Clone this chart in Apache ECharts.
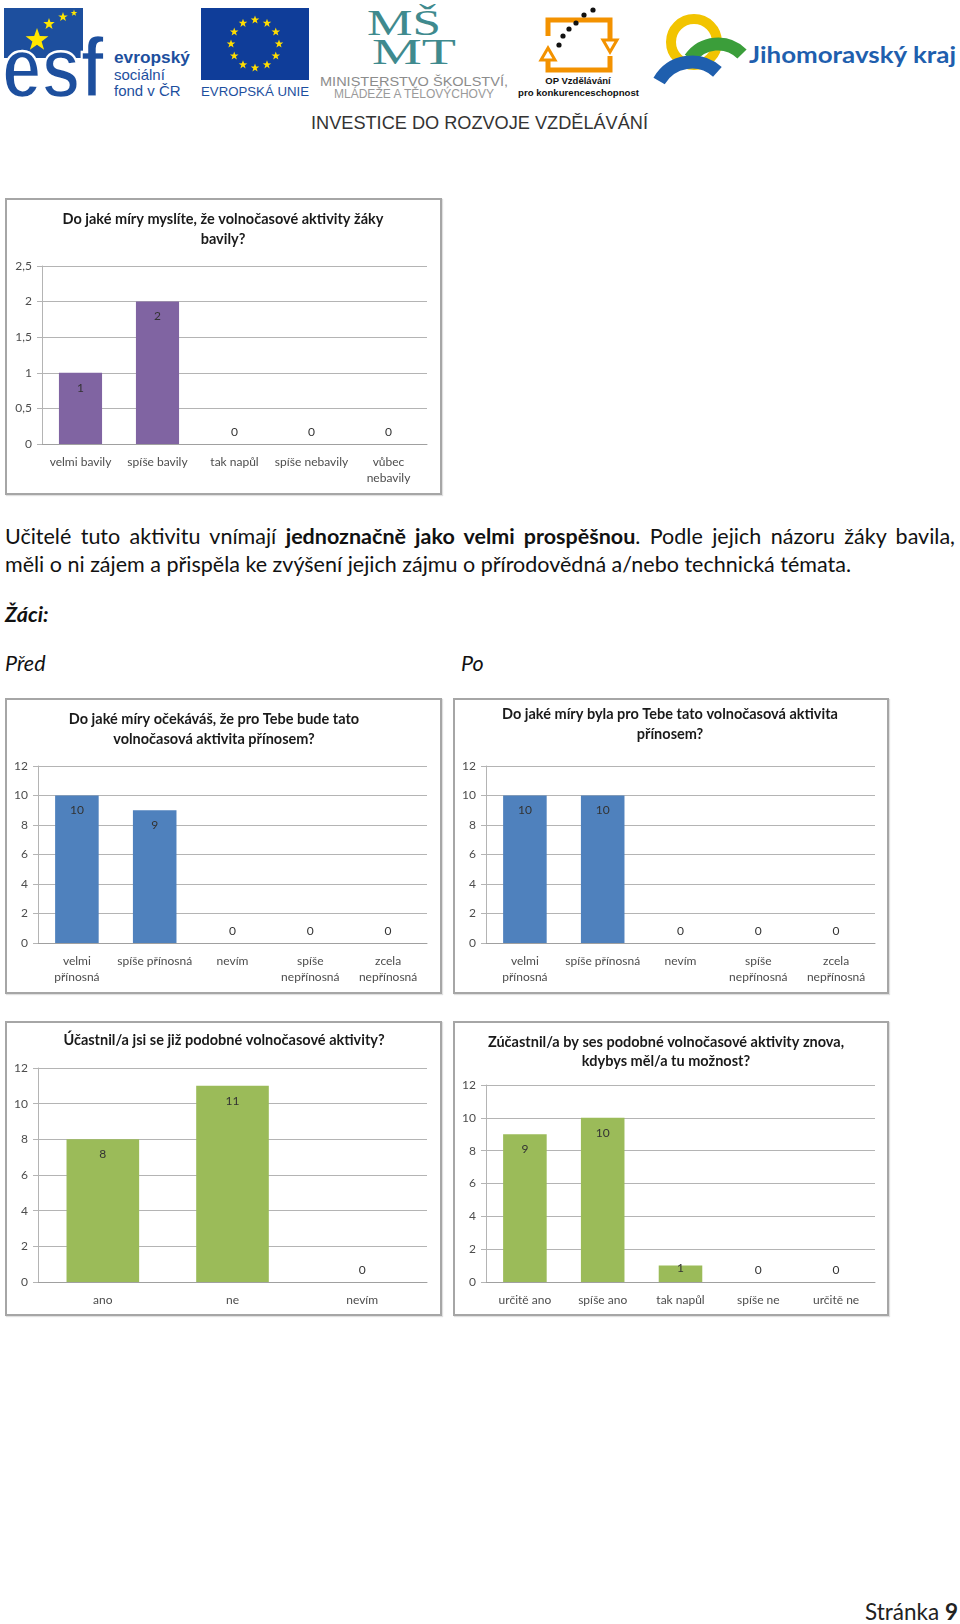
<!DOCTYPE html>
<html><head><meta charset="utf-8">
<script src="https://cdn.jsdelivr.net/npm/echarts@6/dist/echarts.min.js"></script>
<style>
html,body{margin:0;padding:0;background:#fff;}
body{width:960px;height:1624px;position:relative;overflow:hidden;font-family:Lato,'Noto Sans',sans-serif;color:#111;}
.box{position:absolute;box-sizing:border-box;border:2px solid #a6a6a6;box-shadow:1px 1px 1px rgba(0,0,0,0.12);}
.chart{position:absolute;left:-2px;top:-2px;}
.txt{position:absolute;font-size:21.5px;line-height:28px;}
</style></head>
<body>
<svg id="hdr" width="960" height="140" style="position:absolute;left:0;top:0"></svg>

<div class="txt" style="left:5px;top:522px;width:950px;text-align:justify;text-align-last:justify;">Učitelé tuto aktivitu vnímají <b>jednoznačně jako velmi prospěšnou</b>. Podle jejich názoru žáky bavila,</div>
<div class="txt" style="left:5px;top:550px;white-space:nowrap;">měli o ni zájem a přispěla ke zvýšení jejich zájmu o přírodovědná a/nebo technická témata.</div>
<div class="txt" style="left:5px;top:600px;font-weight:bold;font-style:italic;">Žáci:</div>
<div class="txt" style="left:5px;top:649px;font-style:italic;">Před</div>
<div class="txt" style="left:461px;top:649px;font-style:italic;">Po</div>

<div class="box" style="left:5px;top:198px;width:437px;height:297px;"><div class="chart" id="c1" style="width:437px;height:297px;"></div></div>
<div class="box" style="left:5px;top:698px;width:437px;height:296px;"><div class="chart" id="c2" style="width:437px;height:296px;"></div></div>
<div class="box" style="left:453px;top:698px;width:436px;height:296px;"><div class="chart" id="c3" style="width:436px;height:296px;"></div></div>
<div class="box" style="left:5px;top:1021px;width:437px;height:295px;"><div class="chart" id="c4" style="width:437px;height:295px;"></div></div>
<div class="box" style="left:453px;top:1021px;width:436px;height:295px;"><div class="chart" id="c5" style="width:436px;height:295px;"></div></div>

<div style="position:absolute;right:2px;top:1601px;font-size:22.5px;line-height:22px;color:#222;white-space:nowrap;">Stránka <b>9</b></div>

<script>
// ---------- data ----------
const teacherCategories = ['velmi bavily', 'spíše bavily', 'tak napůl', 'spíše nebavily', 'vůbec\nnebavily'];
const teacherValues = [1, 2, 0, 0, 0];
const teacherTicks = { min: 0, max: 2.5, interval: 0.5 };

const benefitCategories = ['velmi\npřínosná', 'spíše přínosná', 'nevím', 'spíše\nnepřínosná', 'zcela\nnepřínosná'];
const benefitBeforeValues = [10, 9, 0, 0, 0];
const benefitAfterValues = [10, 10, 0, 0, 0];

const participatedCategories = ['ano', 'ne', 'nevím'];
const participatedValues = [8, 11, 0];

const againCategories = ['určitě ano', 'spíše ano', 'tak napůl', 'spíše ne', 'určitě ne'];
const againValues = [9, 10, 1, 0, 0];

const countTicks = { min: 0, max: 12, interval: 2 };

// ---------- header logos ----------
function starPts(cx, cy, R) {
  const r = R * 0.4, p = [];
  for (let i = 0; i < 10; i++) {
    const a = (-90 + i * 36) * Math.PI / 180, rr = i % 2 ? r : R;
    p.push((cx + rr * Math.cos(a)).toFixed(1) + ',' + (cy + rr * Math.sin(a)).toFixed(1));
  }
  return p.join(' ');
}
function arcPath(cx, cy, r, a0, a1) {
  const p = a => [(cx + r * Math.cos(a * Math.PI / 180)).toFixed(1), (cy + r * Math.sin(a * Math.PI / 180)).toFixed(1)];
  const s = p(a0), e = p(a1);
  return 'M' + s[0] + ',' + s[1] + ' A' + r + ',' + r + ' 0 ' + ((a1 - a0) > 180 ? 1 : 0) + ' 1 ' + e[0] + ',' + e[1];
}
(function () {
  let s = '';
  // ESF
  s += '<rect x="4" y="8" width="79" height="50" fill="#1d4f9e"/>';
  s += '<text x="2" y="97" font-family="Liberation Sans" font-weight="bold" font-size="86" fill="#1d4f9e" stroke="#fff" stroke-width="2.5" textLength="102" lengthAdjust="spacingAndGlyphs">esf</text>';
  [[37, 40, 12], [49, 24, 6], [63, 17, 5], [74, 13, 3.5]].forEach(st => s += '<polygon points="' + starPts(st[0], st[1], st[2]) + '" fill="#ffe600"/>');
  s += '<text x="114" y="63" font-family="Liberation Sans" font-weight="bold" font-size="17" fill="#1d4f9e" textLength="76" lengthAdjust="spacingAndGlyphs">evropský</text>';
  s += '<text x="114" y="80" font-family="Liberation Sans" font-size="15" fill="#1d4f9e">sociální</text>';
  s += '<text x="114" y="96" font-family="Liberation Sans" font-size="15" fill="#1d4f9e">fond v ČR</text>';
  // EU flag
  s += '<rect x="201" y="8" width="108" height="72" fill="#0f3d99"/>';
  for (let i = 0; i < 12; i++) {
    const a = i * 30 * Math.PI / 180;
    s += '<polygon points="' + starPts(255 + 24 * Math.sin(a), 44 - 24 * Math.cos(a), 4.5) + '" fill="#ffdd00"/>';
  }
  s += '<text x="201" y="96" font-family="Liberation Sans" font-size="13.5" fill="#1d4f9e" textLength="108" lengthAdjust="spacingAndGlyphs">EVROPSKÁ UNIE</text>';
  // MSMT
  s += '<text x="367" y="35" font-family="Liberation Serif" font-size="36" fill="#3f8a8e" textLength="74" lengthAdjust="spacingAndGlyphs">MŠ</text>';
  s += '<text x="372" y="64" font-family="Liberation Serif" font-size="36" fill="#3f8a8e" textLength="84" lengthAdjust="spacingAndGlyphs">MT</text>';
  s += '<text x="320" y="86" font-family="Liberation Sans" font-size="13" fill="#8c8c8c" textLength="188" lengthAdjust="spacingAndGlyphs">MINISTERSTVO ŠKOLSTVÍ,</text>';
  s += '<text x="334" y="98" font-family="Liberation Sans" font-size="12" fill="#9a9a9a" textLength="160" lengthAdjust="spacingAndGlyphs">MLÁDEŽE A TĚLOVÝCHOVY</text>';
  // OP
  s += '<path d="M548,36 V20 H610 V40" fill="none" stroke="#f39200" stroke-width="5"/>';
  s += '<polygon points="603,40 617,40 610,52" fill="none" stroke="#f39200" stroke-width="3"/>';
  s += '<path d="M610,56 V70 H548 V60" fill="none" stroke="#f39200" stroke-width="5"/>';
  s += '<polygon points="541,60 555,60 548,48" fill="none" stroke="#f39200" stroke-width="3"/>';
  [[559, 45], [563, 36], [569, 29], [576, 23], [584, 15], [593, 10]].forEach(d => s += '<circle cx="' + d[0] + '" cy="' + d[1] + '" r="2.6" fill="#111"/>');
  s += '<text x="578" y="84" text-anchor="middle" font-family="Liberation Sans" font-weight="bold" font-size="9.5" fill="#111">OP Vzdělávání</text>';
  s += '<text x="518" y="96" font-family="Liberation Sans" font-weight="bold" font-size="9.5" fill="#111" textLength="121" lengthAdjust="spacingAndGlyphs">pro konkurenceschopnost</text>';
  // Jihomoravsky kraj
  s += '<circle cx="694" cy="42" r="23" fill="none" stroke="#f2c400" stroke-width="10"/>';
  s += '<path d="' + arcPath(718, 78, 34, -145, -45) + '" fill="none" stroke="#3b9e3a" stroke-width="13"/>';
  s += '<path d="' + arcPath(692, 100, 38, -150, -48) + '" fill="none" stroke="#1f5fae" stroke-width="13"/>';
  s += '<text x="749" y="63" font-family="Lato" font-weight="bold" font-size="22" fill="#1f5fae" textLength="207" lengthAdjust="spacingAndGlyphs">Jihomoravský kraj</text>';
  // Investice
  s += '<text x="311" y="129" font-family="Liberation Sans" font-size="18" fill="#333" textLength="337" lengthAdjust="spacingAndGlyphs">INVESTICE DO ROZVOJE VZDĚLÁVÁNÍ</text>';
  document.getElementById('hdr').innerHTML = s;
})();

// ---------- charts ----------
const GRID = '#b4b4b4';
function makeChart(id, cfg) {
  const chart = echarts.init(document.getElementById(id), null, { renderer: 'canvas' });
  const data = cfg.values.map(v => {
    const item = { value: v };
    if (v === 0) item.label = { position: 'top', distance: 6 };
    else if (v / cfg.ticks.max < 0.1) item.label = { position: 'top', distance: -9 };
    return item;
  });
  chart.setOption({
    animation: false,
    backgroundColor: 'transparent',
    graphic: [{
      type: 'text', x: cfg.titleX, y: cfg.titleTop,
      style: { text: cfg.title, font: 'bold 14.5px Lato', fill: '#1a1a1a', align: 'center', verticalAlign: 'top', lineHeight: cfg.titleLH || 19.5 }
    }],
    grid: cfg.grid,
    xAxis: {
      type: 'category', data: cfg.categories,
      axisLine: { lineStyle: { color: '#a0a0a0' } },
      axisTick: { show: false },
      axisLabel: { interval: 0, color: '#4d4d4d', fontFamily: 'Lato', fontSize: 12, lineHeight: 16, margin: 10 }
    },
    yAxis: {
      type: 'value', min: cfg.ticks.min, max: cfg.ticks.max, interval: cfg.ticks.interval,
      axisLine: { show: true, lineStyle: { color: GRID } },
      axisTick: { show: true, length: 5, lineStyle: { color: GRID } },
      splitLine: { lineStyle: { color: GRID } },
      axisLabel: { color: '#4d4d4d', fontFamily: 'Lato', fontSize: 12, margin: 10,
        formatter: v => String(v).replace('.', ',') }
    },
    series: [{
      type: 'bar', data: data, barCategoryGap: '44%',
      itemStyle: { color: cfg.color },
      label: { show: true, position: 'insideTop', distance: 9, color: '#333', fontFamily: 'Lato', fontSize: 12 }
    }]
  });
}

makeChart('c1', {
  title: 'Do jaké míry myslíte, že volnočasové aktivity žáky\nbavily?', titleX: 218, titleTop: 12,
  categories: teacherCategories, values: teacherValues, ticks: teacherTicks, color: '#8064a2',
  grid: { left: 37, right: 15, top: 68, bottom: 51 }
});
makeChart('c2', {
  title: 'Do jaké míry očekáváš, že pro Tebe bude tato\nvolnočasová aktivita přínosem?', titleX: 209, titleTop: 12,
  categories: benefitCategories, values: benefitBeforeValues, ticks: countTicks, color: '#4f81bd',
  grid: { left: 33, right: 15, top: 68, bottom: 51 }
});
makeChart('c3', {
  title: 'Do jaké míry byla pro Tebe tato volnočasová aktivita\npřínosem?', titleX: 217, titleTop: 7,
  categories: benefitCategories, values: benefitAfterValues, ticks: countTicks, color: '#4f81bd',
  grid: { left: 33, right: 14, top: 68, bottom: 51 }
});
makeChart('c4', {
  title: 'Účastnil/a jsi se již podobné volnočasové aktivity?', titleX: 219, titleTop: 10,
  categories: participatedCategories, values: participatedValues, ticks: countTicks, color: '#9bbb59',
  grid: { left: 33, right: 15, top: 47, bottom: 34 }
});
makeChart('c5', {
  title: 'Zúčastnil/a by ses podobné volnočasové aktivity znova,\nkdybys měl/a tu možnost?', titleX: 213, titleTop: 12, titleLH: 18.7,
  categories: againCategories, values: againValues, ticks: countTicks, color: '#9bbb59',
  grid: { left: 33, right: 14, top: 64, bottom: 34 }
});
</script>
</body></html>
